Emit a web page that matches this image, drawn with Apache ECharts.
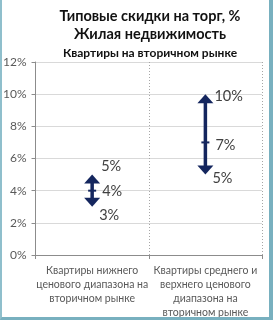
<!DOCTYPE html>
<html><head><meta charset="utf-8">
<script src="https://cdn.jsdelivr.net/npm/echarts@6/dist/echarts.min.js"></script>
<style>
html,body{margin:0;padding:0;background:#fff;}
#frame{position:absolute;left:0;top:0;width:273px;height:320px;box-sizing:border-box;border-left:2px solid #8fbfcc;border-right:4px solid #78b0bf;border-bottom:3px solid #78b0bf;}
#c{position:absolute;left:0;top:0;width:273px;height:320px;}
</style></head>
<body><div id="c"></div><div id="frame"></div>
<script>
const categories = ['Квартиры нижнего\nценового диапазона на\nвторичном рынке','Квартиры среднего и\nверхнего ценового\nдиапазона на\nвторичном рынке'];
const lowValues = [3, 5];
const midValues = [4, 7];
const highValues = [5, 10];
const yTicks = [0, 2, 4, 6, 8, 10, 12];

const chart = echarts.init(document.getElementById('c'), null, {renderer:'canvas'});
const data = categories.map((c,i)=>[i, lowValues[i], midValues[i], highValues[i]]);
const labelOffsets = [
  {hi:[9,-8], mid:[10,1], lo:[7,9]},
  {hi:[9,2], mid:[10,3], lo:[7,4]}
];
const col = '#14265e';
const txt = '#404040';
const F = 'Lato';
chart.setOption({
  animation:false,
  title:[
    {text:'Типовые скидки на торг, %', left:145, top:4, textAlign:'center', textStyle:{fontFamily:F, fontSize:14.5, fontWeight:'bold', color:'#111'}},
    {text:'Жилая недвижимость', left:145, top:22, textAlign:'center', textStyle:{fontFamily:F, fontSize:14.5, fontWeight:'bold', color:'#111'}},
    {text:'Квартиры на вторичном рынке', left:145, top:42, textAlign:'center', textStyle:{fontFamily:F, fontSize:12, fontWeight:'bold', color:'#111'}}
  ],
  grid:{left:31, right:11, top:62, bottom:64},
  xAxis:{type:'category', data:categories, boundaryGap:true,
    axisLine:{lineStyle:{color:'#8c8c8c'}},
    axisTick:{show:true, length:4, lineStyle:{color:'#8c8c8c'}},
    splitLine:{show:true, lineStyle:{color:'#a6a6a6', type:[1,2]}},
    axisLabel:{interval:0, margin:9, fontFamily:F, fontSize:10.5, lineHeight:14, color:'#595959', align:'center'}
  },
  yAxis:{type:'value', min:0, max:12, interval:2,
    axisLine:{show:true, lineStyle:{color:'#8c8c8c'}},
    axisTick:{show:true, length:4, lineStyle:{color:'#8c8c8c'}},
    splitLine:{lineStyle:{color:'#d9d9d9'}},
    axisLabel:{margin:9, fontFamily:F, fontSize:12, color:'#595959', formatter:v=> v+'%'}
  },
  series:[{
    type:'custom',
    data:data,
    encode:{x:0, y:[1,2,3]},
    renderItem:function(params, api){
      const i = api.value(0);
      const lo = api.coord([i, api.value(1)]);
      const mid = api.coord([i, api.value(2)]);
      const hi = api.coord([i, api.value(3)]);
      const x = lo[0];
      const hw = 8, hh = 9;
      const off = labelOffsets[params.dataIndex];
      const ts = {fontFamily:F, fontSize:14.5, fill:txt, textVerticalAlign:'middle', textAlign:'left'};
      return {type:'group', children:[
        {type:'line', shape:{x1:x, y1:hi[1]+hh-1, x2:x, y2:lo[1]-hh+1}, style:{stroke:col, lineWidth:3.5}},
        {type:'polygon', shape:{points:[[x,hi[1]],[x-hw,hi[1]+hh],[x+hw,hi[1]+hh]]}, style:{fill:col}},
        {type:'polygon', shape:{points:[[x,lo[1]],[x-hw,lo[1]-hh],[x+hw,lo[1]-hh]]}, style:{fill:col}},
        {type:'line', shape:{x1:x-4, y1:mid[1], x2:x+4, y2:mid[1]}, style:{stroke:col, lineWidth:2}},
        {type:'text', style:Object.assign({text:api.value(3)+'%', x:x+off.hi[0], y:hi[1]+off.hi[1]}, ts)},
        {type:'text', style:Object.assign({text:api.value(2)+'%', x:x+off.mid[0], y:mid[1]+off.mid[1]}, ts)},
        {type:'text', style:Object.assign({text:api.value(1)+'%', x:x+off.lo[0], y:lo[1]+off.lo[1]}, ts)}
      ]};
    }
  }]
});
</script></body></html>
